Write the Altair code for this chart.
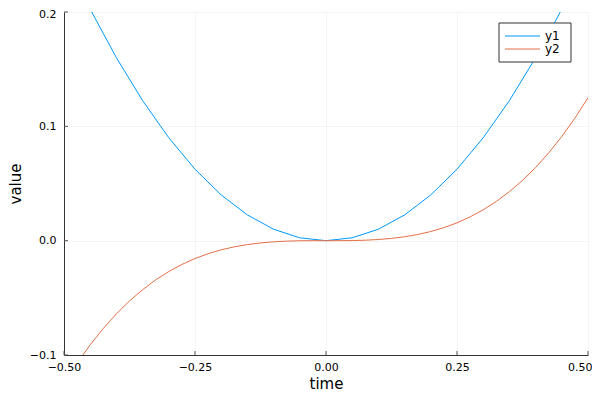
import altair as alt
import pandas as pd

x1 = [-0.5, -0.45, -0.4, -0.35, -0.3, -0.25, -0.2, -0.15, -0.1, -0.05, 0.0,
      0.05, 0.1, 0.15, 0.2, 0.25, 0.3, 0.35, 0.4, 0.45, 0.5]
y1 = [0.25, 0.2025, 0.16, 0.1225, 0.09, 0.0625, 0.04, 0.0225, 0.01, 0.0025, 0.0,
      0.0025, 0.01, 0.0225, 0.04, 0.0625, 0.09, 0.1225, 0.16, 0.2025, 0.25]

x2 = [-0.5, -0.475, -0.45, -0.425, -0.4, -0.375, -0.35, -0.325, -0.3, -0.275,
      -0.25, -0.225, -0.2, -0.175, -0.15, -0.125, -0.1, -0.075, -0.05, -0.025,
      0.0, 0.025, 0.05, 0.075, 0.1, 0.125, 0.15, 0.175, 0.2, 0.225, 0.25,
      0.275, 0.3, 0.325, 0.35, 0.375, 0.4, 0.425, 0.45, 0.475, 0.5]
y2 = [-0.125, -0.1072, -0.0911, -0.0768, -0.064, -0.0527, -0.0429, -0.0343,
      -0.027, -0.0208, -0.0156, -0.0114, -0.008, -0.0054, -0.0034, -0.002,
      -0.001, -0.0004, -0.0001, 0.0, 0.0, 0.0, 0.0001, 0.0004, 0.001, 0.002,
      0.0034, 0.0054, 0.008, 0.0114, 0.0156, 0.0208, 0.027, 0.0343, 0.0429,
      0.0527, 0.064, 0.0768, 0.0911, 0.1072, 0.125]

series = ["y1", "y2"]
colors = ["#009AFA", "#E26F46"]

x_ticks = [-0.5, -0.25, 0.0, 0.25, 0.5]
y_ticks = [-0.1, 0.0, 0.1, 0.2]

W, H = 524, 343

df = pd.concat([
    pd.DataFrame({"time": x1, "value": y1, "series": "y1"}),
    pd.DataFrame({"time": x2, "value": y2, "series": "y2"}),
])

xs = alt.Scale(domain=[-0.5, 0.5], nice=False, zero=False)
ys = alt.Scale(domain=[-0.1, 0.2], nice=False, zero=False)

lines = alt.Chart(df).mark_line(strokeWidth=1, clip=True).encode(
    x=alt.X("time:Q", scale=xs, title="time",
            axis=alt.Axis(values=x_ticks, format=".2f", grid=True, ticks=False,
                          labelFlush=False,
                          labelAlign=alt.condition("datum.value == 0.5",
                                                   alt.value("right"), alt.value("center")),
                          labelOffset=alt.condition("datum.value == 0.5",
                                                    alt.value(4), alt.value(0)),
                          labelPadding=6, titlePadding=4)),
    y=alt.Y("value:Q", scale=ys, title="value",
            axis=alt.Axis(values=y_ticks, format=".1f", grid=True, ticks=False,
                          labelFlush=False,
                          labelOffset=alt.condition("datum.value > 0.15",
                                                    alt.value(2), alt.value(0)),
                          labelPadding=8, titlePadding=6)),
    color=alt.Color("series:N",
                    scale=alt.Scale(domain=series, range=colors), legend=None),
    detail="series:N",
)

xt = alt.Chart(pd.DataFrame({"t": x_ticks})).mark_rule(color="#555", strokeWidth=1).encode(
    x=alt.X("t:Q", scale=xs), y=alt.value(H), y2=alt.value(H - 4))
yt = alt.Chart(pd.DataFrame({"t": y_ticks})).mark_rule(color="#555", strokeWidth=1).encode(
    y=alt.Y("t:Q", scale=ys), x=alt.value(0), x2=alt.value(4))

# legend box (manual, Julia-style)
LX, LY, LW, LH = 435, 11, 72, 39
box = alt.Chart(pd.DataFrame({"a": [0]})).mark_rect(
    fill="white", stroke="#333333", strokeWidth=1).encode(
    x=alt.value(LX), x2=alt.value(LX + LW), y=alt.value(LY), y2=alt.value(LY + LH))
legend_layers = [box]
for i, (s, c) in enumerate(zip(series, colors)):
    ry = LY + 13 + i * 13
    d = pd.DataFrame({"s": [s]})
    legend_layers.append(alt.Chart(d).mark_rule(color=c, strokeWidth=1.2).encode(
        x=alt.value(LX + 6), x2=alt.value(LX + 41), y=alt.value(ry)))
    legend_layers.append(alt.Chart(d).mark_text(
        align="left", baseline="middle", font="DejaVu Sans", fontSize=12, color="#000").encode(
        x=alt.value(LX + 46), y=alt.value(ry), text="s:N"))

chart = alt.layer(lines, xt, yt, *legend_layers).properties(
    width=W, height=H, autosize=alt.AutoSizeParams(type="none"),
    padding={"left": 56, "top": 4, "right": 4, "bottom": 37}
).configure_view(stroke=None).configure_axis(
    domainColor="#333333", domainWidth=1, gridColor="#000000", gridOpacity=0.08,
    gridWidth=0.5, labelFont="DejaVu Sans", labelFontSize=11, labelColor="#000",
    titleFont="DejaVu Sans", titleFontSize=15, titleFontWeight="normal", titleColor="#000"
)

chart.save("out.html", embed_options={"renderer": "svg", "actions": False})
